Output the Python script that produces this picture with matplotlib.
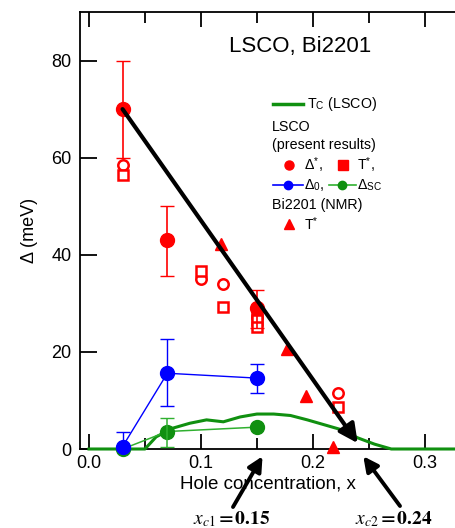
import matplotlib
matplotlib.use("Agg")
import matplotlib.pyplot as plt
from matplotlib.ticker import MultipleLocator

plt.rcParams['font.family'] = ['Liberation Sans', 'DejaVu Sans']
plt.rcParams['mathtext.fontset'] = 'stix'

# ---------------- data ----------------
# Tc (LSCO) curve, scaled
tc_x = [0.0, 0.05, 0.06, 0.075, 0.09, 0.105, 0.12, 0.135, 0.15, 0.165, 0.18, 0.195, 0.21, 0.225, 0.24, 0.255, 0.27, 0.33]
tc_y = [0.0, 0.0, 2.5, 4.3, 5.3, 6.0, 5.6, 6.6, 7.2, 7.2, 6.9, 6.0, 5.0, 4.0, 2.3, 1.0, 0.0, 0.0]

# Delta* (filled red circles) with error bars
ds_x = [0.03, 0.07, 0.15]
ds_y = [70.0, 43.0, 29.0]
ds_lo = [10.0, 7.3, 4.0]
ds_hi = [10.0, 7.0, 3.8]

# T* open circles / open squares (LSCO)
tc_open_circ_x = [0.03, 0.10, 0.12, 0.15, 0.222]
tc_open_circ_y = [58.5, 35.0, 34.0, 27.0, 11.5]
tc_open_sq_x = [0.03, 0.10, 0.12, 0.15, 0.15, 0.15, 0.222]
tc_open_sq_y = [56.5, 36.7, 29.2, 28.3, 26.6, 25.2, 8.6]

# Bi2201 NMR T* (triangles)
bi_x = [0.118, 0.177, 0.194, 0.218]
bi_y = [42.3, 20.6, 11.0, 0.5]

# Delta_0 (blue)
d0_x = [0.03, 0.07, 0.15]
d0_y = [0.5, 15.6, 14.6]
d0_lo = [0.5, 6.7, 3.0]
d0_hi = [3.0, 7.1, 2.9]

# Delta_SC (green)
dsc_x = [0.03, 0.07, 0.15]
dsc_y = [0.0, 3.6, 4.5]
dsc_err_x = [0.07]
dsc_err_y = [3.6]
dsc_lo = [3.1]
dsc_hi = [2.7]

# black guide arrow endpoints (x, Delta)
guide_start = (0.03, 70.0)
guide_end = (0.24, 1.2)

xc1 = 0.15
xc2 = 0.24

red = '#ff0000'
blue = '#0000ff'
green = '#109010'
lgreen = '#30b030'

# ---------------- figure ----------------
fig = plt.figure(figsize=(4.55, 5.28), dpi=100)
ax = fig.add_axes([80/455, 1 - 449/528, 1 - 80/455 + 0.002, (449 - 12)/528])
ax.set_xlim(-0.008, 0.3277)
ax.set_ylim(0, 90)

ax.spines['right'].set_visible(False)
for s in ['left', 'bottom', 'top']:
    ax.spines[s].set_linewidth(1.3)

ax.xaxis.set_major_locator(MultipleLocator(0.1))
ax.xaxis.set_minor_locator(MultipleLocator(0.05))
ax.yaxis.set_major_locator(MultipleLocator(20))
ax.tick_params(axis='x', which='major', direction='in', length=11, width=1.3, top=True, labelsize=13, pad=4)
ax.tick_params(axis='x', which='minor', direction='in', length=8, width=1.3, top=True)
ax.tick_params(axis='y', which='major', direction='in', length=12, width=1.3, labelsize=13, pad=6)
ax.set_xticks([0.0, 0.1, 0.2, 0.3])
ax.set_xticklabels(['0.0', '0.1', '0.2', '0.3'])
ax.set_yticks([0, 20, 40, 60, 80])

ax.set_xlabel('Hole concentration, x', fontsize=13.5, labelpad=3)
ax.set_ylabel('Δ (meV)', fontsize=13, labelpad=10)

# Tc curve
ax.plot(tc_x, tc_y, color=green, lw=2.2, clip_on=False, zorder=3)

# Delta_SC
ax.plot(dsc_x, dsc_y, color=lgreen, lw=1.1, marker='o', ms=10, mfc=green, mec=green,
        clip_on=False, zorder=4)
ax.errorbar(dsc_err_x, dsc_err_y, yerr=[dsc_lo, dsc_hi], ls='none', color=lgreen,
            capsize=5, elinewidth=1.1, zorder=4)
# Delta_0
ax.errorbar(d0_x, d0_y, yerr=[d0_lo, d0_hi], color=blue, lw=1.0, marker='o', ms=10,
            capsize=5, elinewidth=1.0, clip_on=False, zorder=4)

# T* open markers
ax.plot(tc_open_circ_x, tc_open_circ_y, ls='none', marker='o', ms=7.5, mfc='white', mec=red, mew=1.8, zorder=4)
ax.plot(tc_open_sq_x, tc_open_sq_y, ls='none', marker='s', ms=7.5, mfc='white', mec=red, mew=1.8, zorder=4)

# Delta* filled
ax.errorbar(ds_x, ds_y, yerr=[ds_lo, ds_hi], ls='none', color=red, marker='o', ms=10,
            capsize=5, elinewidth=1.2, zorder=5)

# Bi2201 triangles
ax.plot(bi_x, bi_y, ls='none', marker='^', ms=9, color=red, clip_on=False, zorder=5)

# guide arrow
ax.annotate('', xy=guide_end, xytext=guide_start,
            arrowprops=dict(arrowstyle='-|>', lw=3, color='k', mutation_scale=28,
                            shrinkA=0, shrinkB=0), zorder=6)

# title
ax.text(0.585, 0.945, 'LSCO, Bi2201', transform=ax.transAxes, ha='center', va='top', fontsize=16)

# ---------- custom legend ----------
def axp(px, py):
    """figure pixel (from top-left) -> axes fraction"""
    bb = ax.get_position()
    fx = px / 455
    fy = 1 - py / 528
    return ((fx - bb.x0) / bb.width, (fy - bb.y0) / bb.height)

lfs = 10.3
tr = ax.transAxes
x0, y0 = axp(273, 104)
x1, _ = axp(303, 104)
ax.plot([x0, x1], [y0, y0], transform=tr, color=green, lw=2.5, clip_on=False)
tx, _ = axp(307, 104)
ax.text(tx, y0, r'T$_\mathregular{C}$ (LSCO)', transform=tr, va='center', fontsize=lfs)
tx, ty = axp(272, 127)
ax.text(tx, ty, 'LSCO', transform=tr, va='center', fontsize=lfs)
tx, ty = axp(272, 145)
ax.text(tx, ty, '(present results)', transform=tr, va='center', fontsize=lfs)
mx, my = axp(289, 165)
ax.plot([mx], [my], transform=tr, marker='o', color=red, ms=6.5, clip_on=False)
tx, _ = axp(304, 165)
ax.text(tx, my, r'Δ$^\mathregular{*}$,', transform=tr, va='center', fontsize=lfs)
mx, _ = axp(343, 165)
ax.plot([mx], [my], transform=tr, marker='s', color=red, ms=6.5, clip_on=False)
tx, _ = axp(357, 165)
ax.text(tx, my, r'T$^\mathregular{*}$,', transform=tr, va='center', fontsize=lfs)
a0, ly = axp(273, 185)
a1, _ = axp(303, 185)
am, _ = axp(288, 185)
ax.plot([a0, a1], [ly, ly], transform=tr, color=blue, lw=1.2, clip_on=False)
ax.plot([am], [ly], transform=tr, marker='o', color=blue, ms=6, clip_on=False)
tx, _ = axp(304, 185)
ax.text(tx, ly, r'Δ$_\mathregular{0}$,', transform=tr, va='center', fontsize=lfs)
a0, _ = axp(329, 185)
a1, _ = axp(356, 185)
am, _ = axp(342, 185)
ax.plot([a0, a1], [ly, ly], transform=tr, color=lgreen, lw=1.2, clip_on=False)
ax.plot([am], [ly], transform=tr, marker='o', color=green, ms=6, clip_on=False)
tx, _ = axp(357, 185)
ax.text(tx, ly, r'Δ$_\mathregular{SC}$', transform=tr, va='center', fontsize=lfs)
tx, ty = axp(272, 205)
ax.text(tx, ty, 'Bi2201 (NMR)', transform=tr, va='center', fontsize=lfs)
mx, my = axp(289, 224)
ax.plot([mx], [my], transform=tr, marker='^', color=red, ms=6.5, clip_on=False)
tx, _ = axp(304, 224)
ax.text(tx, my, r'T$^\mathregular{*}$', transform=tr, va='center', fontsize=lfs)

# ---------- critical concentration arrows below the axis ----------
for xc, tail_px, text_px in [(xc1, (233, 507), (232, 519)), (xc2, (400, 506), (394, 519))]:
    ax.annotate('', xy=(xc + 0.005, -1.5), xycoords='data',
                xytext=(tail_px[0], 528 - tail_px[1]), textcoords='figure pixels',
                arrowprops=dict(arrowstyle='-|>', lw=2.8, color='k', mutation_scale=22,
                                shrinkA=0, shrinkB=0), annotation_clip=False)
    lab = r'$\boldsymbol{x_{c1}=0.15}$' if xc == xc1 else r'$\boldsymbol{x_{c2}=0.24}$'
    fig.text(text_px[0] / 455, 1 - text_px[1] / 528, lab, ha='center', va='center', fontsize=14)

fig.savefig('out.png', dpi=100)
